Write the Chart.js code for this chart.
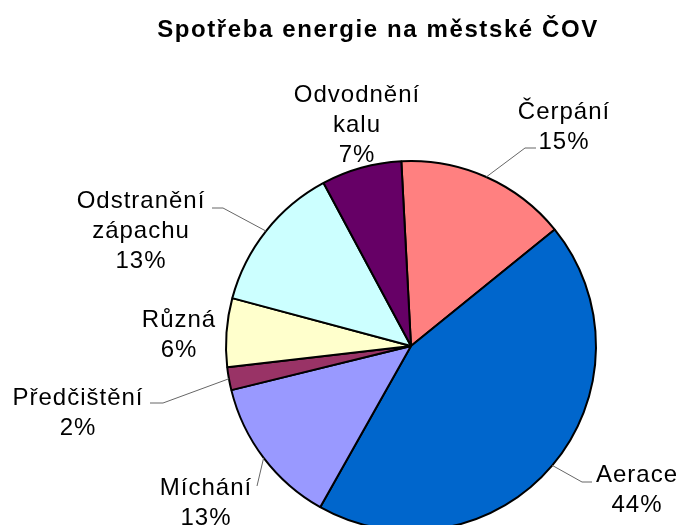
<!DOCTYPE html>
<html>
<head>
<meta charset="utf-8">
<script src="https://cdn.jsdelivr.net/npm/chart.js@4.4.1/dist/chart.umd.min.js"></script>
<style>
  html, body { margin: 0; padding: 0; background: #fff; overflow: hidden; }
  canvas { display: block; }
</style>
</head>
<body>
<canvas id="pie" width="680" height="540"></canvas>
<script>
// data
const chartTitle = 'Spotřeba energie na městské ČOV';
const categories = ['Čerpání', 'Aerace', 'Míchání', 'Předčištění', 'Různá', 'Odstranění\nzápachu', 'Odvodnění\nkalu'];
const shares = [15, 44, 13, 2, 6, 13, 7];
const sliceColors = ['#FF8080', '#0066CC', '#9999FF', '#993366', '#FFFFCC', '#CCFFFF', '#660066'];

// label placement: text centre x, first baseline y, leader elbow and end (or null)
const labelLayout = [
  { x: 564, y: 119, leader: [[525, 148], [536, 148]] },
  { x: 637, y: 482, leader: [[582, 482], [592, 482]] },
  { x: 206, y: 495, leader: [[257, 486]] },
  { x: 78,  y: 405, leader: [[163, 403], [150, 403]] },
  { x: 179, y: 327, leader: null },
  { x: 141, y: 208, leader: [[223, 208], [212, 208]] },
  { x: 357, y: 102, leader: null }
];

const FONT = 'Arial, "Liberation Sans", sans-serif';

// titulek, popisky a odkazove cary
const labelPlugin = {
  id: 'pieLabels',
  afterDraw(chart) {
    const ctx = chart.ctx;
    const arcs = chart.getDatasetMeta(0).data;
    ctx.save();

    ctx.fillStyle = '#000';
    ctx.textAlign = 'center';
    ctx.textBaseline = 'alphabetic';
    ctx.font = 'bold 24px ' + FONT;
    ctx.letterSpacing = '1.6px';
    ctx.fillText(chartTitle, 378, 37);

    ctx.font = '24px ' + FONT;
    ctx.letterSpacing = '1px';
    arcs.forEach((arc, i) => {
      const lay = labelLayout[i];
      if (lay.leader) {
        const mid = (arc.startAngle + arc.endAngle) / 2;
        const sx = arc.x + Math.cos(mid) * arc.outerRadius;
        const sy = arc.y + Math.sin(mid) * arc.outerRadius;
        ctx.beginPath();
        ctx.strokeStyle = '#666';
        ctx.lineWidth = 1;
        ctx.moveTo(sx, sy);
        lay.leader.forEach(p => ctx.lineTo(p[0], p[1]));
        ctx.stroke();
      }
      const lines = categories[i].split('\n').concat([shares[i] + '%']);
      lines.forEach((t, k) => ctx.fillText(t, lay.x, lay.y + k * 30));
    });
    ctx.restore();
  }
};

new Chart(document.getElementById('pie'), {
  type: 'pie',
  data: {
    labels: categories,
    datasets: [{
      data: shares,
      backgroundColor: sliceColors,
      borderColor: '#000',
      borderWidth: 2
    }]
  },
  options: {
    responsive: false,
    animation: false,
    rotation: -3,
    layout: { padding: { left: 225, right: 83, top: 160, bottom: 8 } },
    plugins: {
      legend: { display: false },
      tooltip: { enabled: false }
    }
  },
  plugins: [labelPlugin]
});
</script>
</body>
</html>
